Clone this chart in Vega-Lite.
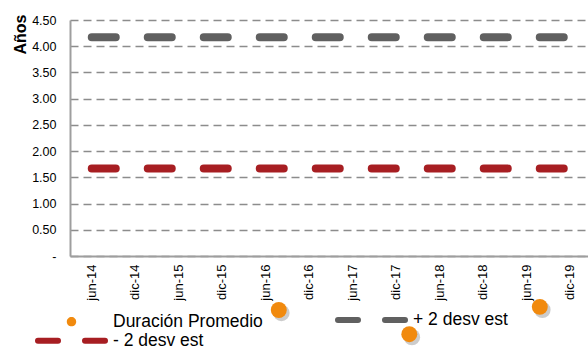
{
  "$schema": "https://vega.github.io/schema/vega-lite/v6.json",
  "width": 522,
  "height": 236,
  "autosize": {"type": "none"},
  "padding": {"left": 70, "top": 20, "right": 0, "bottom": 92},
  "background": "white",
  "config": {"view": {"stroke": null}, "font": "Liberation Sans"},
  "datasets": {
    "lineas": [
      {"fecha": "jun-14", "serie": "+ 2 desv est", "valor": 4.17},
      {"fecha": "dic-14", "serie": "+ 2 desv est", "valor": 4.17},
      {"fecha": "jun-15", "serie": "+ 2 desv est", "valor": 4.17},
      {"fecha": "dic-15", "serie": "+ 2 desv est", "valor": 4.17},
      {"fecha": "jun-16", "serie": "+ 2 desv est", "valor": 4.17},
      {"fecha": "dic-16", "serie": "+ 2 desv est", "valor": 4.17},
      {"fecha": "jun-17", "serie": "+ 2 desv est", "valor": 4.17},
      {"fecha": "dic-17", "serie": "+ 2 desv est", "valor": 4.17},
      {"fecha": "jun-18", "serie": "+ 2 desv est", "valor": 4.17},
      {"fecha": "dic-18", "serie": "+ 2 desv est", "valor": 4.17},
      {"fecha": "jun-19", "serie": "+ 2 desv est", "valor": 4.17},
      {"fecha": "dic-19", "serie": "+ 2 desv est", "valor": 4.17},
      {"fecha": "jun-14", "serie": "- 2 desv est", "valor": 1.67},
      {"fecha": "dic-14", "serie": "- 2 desv est", "valor": 1.67},
      {"fecha": "jun-15", "serie": "- 2 desv est", "valor": 1.67},
      {"fecha": "dic-15", "serie": "- 2 desv est", "valor": 1.67},
      {"fecha": "jun-16", "serie": "- 2 desv est", "valor": 1.67},
      {"fecha": "dic-16", "serie": "- 2 desv est", "valor": 1.67},
      {"fecha": "jun-17", "serie": "- 2 desv est", "valor": 1.67},
      {"fecha": "dic-17", "serie": "- 2 desv est", "valor": 1.67},
      {"fecha": "jun-18", "serie": "- 2 desv est", "valor": 1.67},
      {"fecha": "dic-18", "serie": "- 2 desv est", "valor": 1.67},
      {"fecha": "jun-19", "serie": "- 2 desv est", "valor": 1.67},
      {"fecha": "dic-19", "serie": "- 2 desv est", "valor": 1.67}
    ],
    "puntos": [
      {"fecha": "jun-16", "serie": "Duración Promedio", "valor": -1.03},
      {"fecha": "dic-17", "serie": "Duración Promedio", "valor": -1.49},
      {"fecha": "jun-19", "serie": "Duración Promedio", "valor": -0.97}
    ]
  },
  "encoding": {
    "x": {
      "field": "fecha",
      "type": "ordinal",
      "scale": {
        "type": "band",
        "domain": ["jun-14","dic-14","jun-15","dic-15","jun-16","dic-16","jun-17","dic-17","jun-18","dic-18","jun-19","dic-19"],
        "paddingInner": 0,
        "paddingOuter": 0
      },
      "axis": {
        "title": null,
        "labelAngle": 270,
        "labelFontSize": 13,
        "labelFont": "Liberation Sans",
        "labelColor": "#000000",
        "labelPadding": 8,
        "ticks": false,
        "grid": false,
        "domainColor": "#9e9e9e",
        "domainWidth": 2
      }
    },
    "y": {
      "field": "valor",
      "type": "quantitative",
      "scale": {"domain": [0, 4.5], "nice": false, "zero": false},
      "axis": {
        "title": "Años",
        "values": [0, 0.5, 1, 1.5, 2, 2.5, 3, 3.5, 4, 4.5],
        "labelExpr": "datum.value == 0 ? '-\u00a0\u00a0' : format(datum.value, '.2f')",
        "ticks": false,
        "labelPadding": 14,
        "labelFontSize": 12.5,
        "labelFont": "Liberation Sans",
        "labelColor": "#000000",
        "domainColor": "#9e9e9e",
        "domainWidth": 2,
        "grid": true,
        "gridColor": "#8c8c8c",
        "gridDash": [8, 5],
        "gridWidth": 1.5,
        "titleFont": "Liberation Sans",
        "titleFontSize": 16,
        "titleFontWeight": "bold",
        "titleColor": "#000000",
        "titleAngle": 270,
        "titleAlign": "center",
        "titleBaseline": "alphabetic",
        "titleX": -44.5,
        "titleY": 14
      }
    },
    "color": {
      "field": "serie",
      "type": "nominal",
      "scale": {
        "domain": ["Duración Promedio", "+ 2 desv est", "- 2 desv est"],
        "range": ["#f18a0e", "#606060", "#a71e22"]
      },
      "legend": {
        "title": null,
        "orient": "none",
        "direction": "horizontal",
        "legendX": -43.75,
        "legendY": 291,
        "columns": 2,
        "columnPadding": 62,
        "rowPadding": -9.5,
        "padding": 0,
        "labelFont": "Liberation Sans",
        "labelFontSize": 17.5,
        "labelColor": "#000000",
        "labelOffset": 69.25,
        "labelLimit": 400,
        "zindex": 0,
        "encode": {
          "symbols": {
            "update": {
              "shape": {"signal": "datum.value === 'Duración Promedio' ? 'M0,0H73M31.8,0A4.7,4.7,0,1,0,41.2,0A4.7,4.7,0,1,0,31.8,0Z' : 'M3,0H70'"},
              "size": {"value": 4},
              "fill": {"signal": "datum.value === 'Duración Promedio' ? '#f18a0e' : 'transparent'"},
              "stroke": {"signal": "datum.value === 'Duración Promedio' ? 'transparent' : (datum.value === '+ 2 desv est' ? '#606060' : '#a71e22')"},
              "strokeOpacity": {"signal": "datum.value === 'Duración Promedio' ? 0 : 1"},
              "strokeWidth": {"value": 6},
              "strokeDash": {"signal": "datum.value === 'Duración Promedio' ? [1, 0] : [20, 27]"},
              "strokeCap": {"value": "round"},
              "opacity": {"value": 1}
            }
          }
        }
      }
    }
  },
  "layer": [
    {
      "data": {"name": "lineas"},
      "mark": {"type": "line", "strokeWidth": 8, "strokeDash": [24, 32], "strokeCap": "round"}
    },
    {
      "data": {"name": "puntos"},
      "mark": {"type": "circle", "size": 270, "opacity": 0.2},
      "encoding": {
        "x": {"field": "fecha", "type": "ordinal", "bandPosition": 0.86},
        "yOffset": {"value": 3},
        "color": {"value": "#000000"}
      }
    },
    {
      "data": {"name": "puntos"},
      "mark": {"type": "circle", "size": 255, "opacity": 1},
      "encoding": {
        "x": {"field": "fecha", "type": "ordinal", "bandPosition": 0.8}
      }
    }
  ]
}
